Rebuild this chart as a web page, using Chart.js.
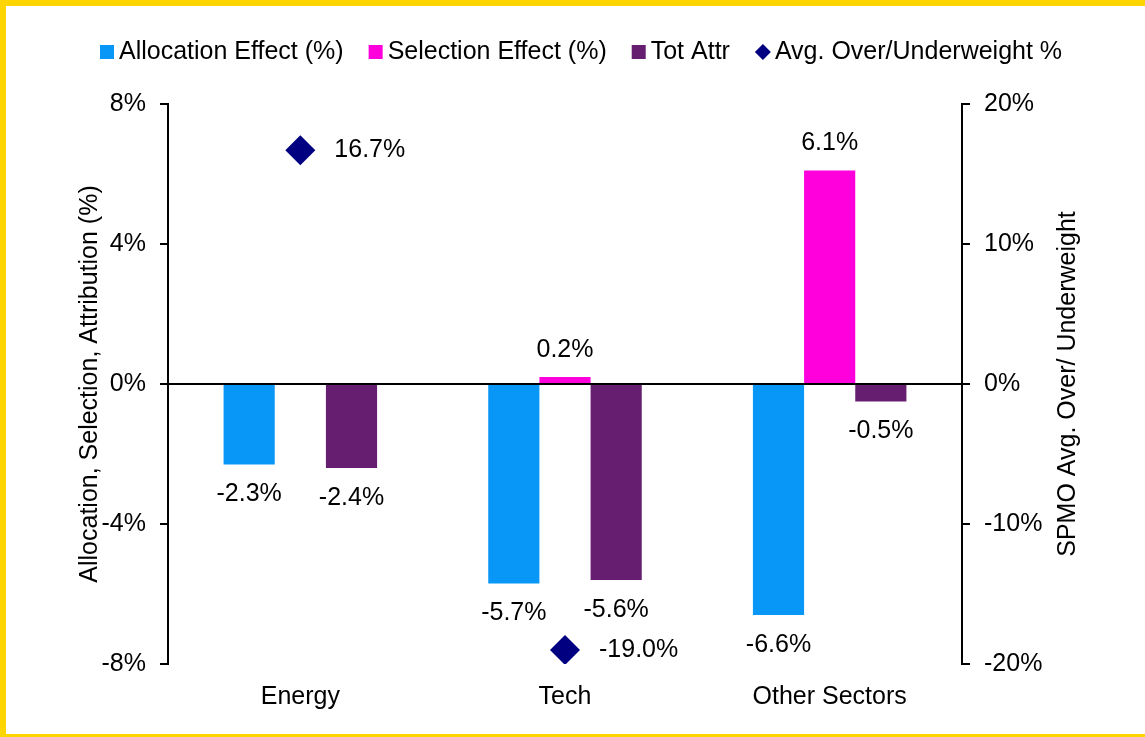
<!DOCTYPE html>
<html>
<head>
<meta charset="utf-8">
<script src="https://cdn.jsdelivr.net/npm/chart.js@4/dist/chart.umd.min.js"></script>
<style>
  html, body { margin: 0; padding: 0; background: #fff; }
  #frame {
    width: 1139px; height: 728px;
    border-left: 6px solid #FFD500;
    border-top: 6px solid #FFD500;
    border-bottom: 3px solid #FFD500;
  }
  canvas { display: block; }
</style>
</head>
<body>
<div id="frame"><canvas id="chart" width="1139" height="728"></canvas></div>
<script>
var categories = ['Energy', 'Tech', 'Other Sectors'];
var allocation = [-2.3, -5.7, -6.6];
var selection = [null, 0.2, 6.1];
var totAttr = [-2.4, -5.6, -0.5];
var overUnder = [16.7, -19.0, null];

var leftTicks = [-8, -4, 0, 4, 8];
var rightTicks = [-20, -10, 0, 10, 20];

var FONT = '"Liberation Sans", Arial, sans-serif';
var fontPx = 25;

// legend, axis titles and value labels
var extras = {
  id: 'extras',
  afterDraw: function (chart) {
    var ctx = chart.ctx;
    var area = chart.chartArea;
    ctx.save();
    ctx.font = fontPx + 'px ' + FONT;
    ctx.fillStyle = '#000';

    // value labels
    chart.data.datasets.forEach(function (ds, i) {
      var meta = chart.getDatasetMeta(i);
      meta.data.forEach(function (el, j) {
        var v = ds.data[j];
        if (v === null || v === undefined) return;
        var txt = v.toFixed(1) + '%';
        ctx.textBaseline = 'middle';
        if (ds.type === 'line') {
          ctx.textAlign = 'left';
          ctx.fillText(txt, el.x + 34, el.y);
        } else {
          ctx.textAlign = 'center';
          ctx.fillText(txt, el.x, v >= 0 ? el.y - 27 : el.y + 30);
        }
      });
    });

    // axis titles
    var midY = (area.top + area.bottom) / 2;
    ctx.textAlign = 'center';
    ctx.textBaseline = 'middle';
    ctx.save();
    ctx.translate(84, midY);
    ctx.rotate(-Math.PI / 2);
    ctx.fillText('Allocation, Selection, Attribution (%)', 0, 0);
    ctx.restore();
    ctx.save();
    ctx.translate(1062, midY);
    ctx.rotate(-Math.PI / 2);
    ctx.fillText('SPMO Avg. Over/ Underweight', 0, 0);
    ctx.restore();

    // legend
    var x = 94, y = 46;
    ctx.textAlign = 'left';
    chart.data.datasets.forEach(function (ds) {
      ctx.fillStyle = ds.backgroundColor;
      if (ds.type === 'line') {
        ctx.beginPath();
        ctx.moveTo(x, y);
        ctx.lineTo(x + 8, y - 8);
        ctx.lineTo(x + 16, y);
        ctx.lineTo(x + 8, y + 8);
        ctx.closePath();
        ctx.fill();
        x += 20;
      } else {
        ctx.fillRect(x, y - 7, 14, 14);
        x += 19;
      }
      ctx.fillStyle = '#000';
      ctx.fillText(ds.label, x, y);
      x += ctx.measureText(ds.label).width + 25;
    });
    ctx.restore();
  }
};

new Chart(document.getElementById('chart'), {
  type: 'bar',
  data: {
    labels: categories,
    datasets: [{
      label: 'Allocation Effect (%)',
      data: allocation,
      backgroundColor: '#0897F7',
      yAxisID: 'y'
    }, {
      label: 'Selection Effect (%)',
      data: selection,
      backgroundColor: '#FF00DD',
      yAxisID: 'y'
    }, {
      label: 'Tot Attr',
      data: totAttr,
      backgroundColor: '#661E70',
      yAxisID: 'y'
    }, {
      type: 'line',
      label: 'Avg. Over/Underweight %',
      data: overUnder,
      yAxisID: 'y2',
      showLine: false,
      pointStyle: 'rectRot',
      pointRadius: 15,
      pointHoverRadius: 15,
      backgroundColor: '#000080',
      borderColor: '#000080',
      borderWidth: 0
    }]
  },
  options: {
    responsive: false,
    animation: false,
    events: [],
    layout: { padding: { top: 98, left: 0, right: 0, bottom: 0 } },
    datasets: {
      bar: { categoryPercentage: 0.58, barPercentage: 1.0 }
    },
    plugins: {
      legend: { display: false },
      tooltip: { enabled: false }
    },
    scales: {
      x: {
        grid: { display: false },
        border: { display: false },
        ticks: { color: '#000', font: { family: FONT, size: fontPx }, padding: 10, maxRotation: 0 },
        afterFit: function (s) { s.height = 70; }
      },
      y: {
        position: 'left',
        min: -8, max: 8,
        afterBuildTicks: function (s) { s.ticks = leftTicks.map(function (v) { return { value: v }; }); },
        ticks: {
          color: '#000', padding: 14,
          font: { family: FONT, size: fontPx },
          callback: function (v) { return v + '%'; }
        },
        grid: {
          drawOnChartArea: true,
          color: function (c) { return c.tick && c.tick.value === 0 ? '#000' : 'rgba(0,0,0,0)'; },
          lineWidth: 2,
          tickColor: '#000',
          tickLength: 8,
          tickWidth: 2
        },
        border: { display: true, color: '#000', width: 2 },
        afterFit: function (s) { s.width = 162; }
      },
      y2: {
        position: 'right',
        min: -20, max: 20,
        afterBuildTicks: function (s) { s.ticks = rightTicks.map(function (v) { return { value: v }; }); },
        ticks: {
          color: '#000', padding: 14,
          font: { family: FONT, size: fontPx },
          callback: function (v) { return v + '%'; }
        },
        grid: {
          drawOnChartArea: false,
          tickColor: '#000',
          tickLength: 8,
          tickWidth: 2,
          lineWidth: 2
        },
        border: { display: true, color: '#000', width: 2 },
        afterFit: function (s) { s.width = 183; }
      }
    }
  },
  plugins: [extras]
});
</script>
</body>
</html>
